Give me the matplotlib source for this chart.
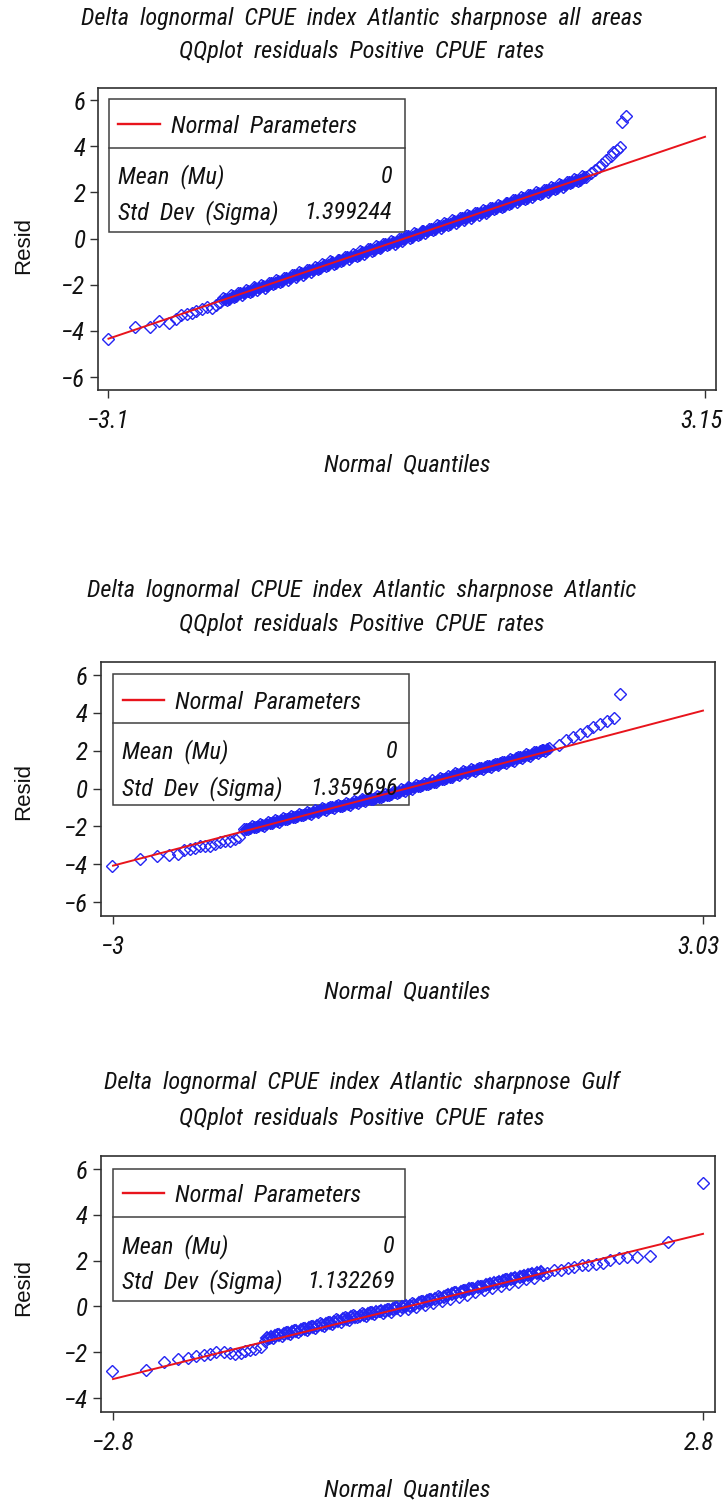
import matplotlib
matplotlib.use("Agg")
import matplotlib.pyplot as plt
from matplotlib.patches import Rectangle
from matplotlib import font_manager
from matplotlib.transforms import ScaledTranslation

_avail = set(f.name for f in font_manager.fontManager.ttflist)
_fam = [f for f in ['Liberation Sans Narrow', 'Roboto Condensed', 'Liberation Sans'] if f in _avail]
plt.rcParams['font.family'] = _fam + ['DejaVu Sans']

# ---------------- data ----------------
titles = [
    "Delta  lognormal  CPUE  index  Atlantic  sharpnose  all  areas",
    "Delta  lognormal  CPUE  index  Atlantic  sharpnose  Atlantic",
    "Delta  lognormal  CPUE  index  Atlantic  sharpnose  Gulf",
]
subtitle = "QQplot  residuals  Positive  CPUE  rates"
mu_values = [0, 0, 0]
sigma_values = [1.399244, 1.359696, 1.132269]
sigma_labels = ["1.399244", "1.359696", "1.132269"]
xtick_values = [[-3.1, 3.15], [-3.0, 3.03], [-2.8, 2.8]]
xtick_labels = [["\u22123.1", "3.15"], ["\u22123", "3.03"], ["\u22122.8", "2.8"]]
ytick_values = [[-6, -4, -2, 0, 2, 4, 6], [-6, -4, -2, 0, 2, 4, 6], [-4, -2, 0, 2, 4, 6]]

# panel 1: all areas (tails + band)
q1 = [-3.11, -2.82, -2.67, -2.57, -2.47, -2.39, -2.34, -2.28, -2.23, -2.18, -2.12, -2.07, -2.02, -1.97, -1.93,
      -1.90, -1.86, -1.82, -1.78, -1.74, -1.70, -1.66, -1.62, -1.58, -1.54, -1.50, -1.46, -1.42, -1.38, -1.34,
      -1.30, -1.26, -1.22, -1.18, -1.14, -1.10, -1.06, -1.02, -0.98, -0.94, -0.90, -0.86, -0.82, -0.78, -0.74,
      -0.70, -0.66, -0.62, -0.58, -0.54, -0.50, -0.46, -0.42, -0.38, -0.34, -0.30, -0.26, -0.22, -0.18, -0.14,
      -0.10, -0.06, -0.02, 0.02, 0.06, 0.10, 0.14, 0.18, 0.22, 0.26, 0.30, 0.34, 0.38, 0.42, 0.46,
      0.50, 0.54, 0.58, 0.62, 0.66, 0.70, 0.74, 0.78, 0.82, 0.86, 0.90, 0.94, 0.98, 1.02, 1.06,
      1.10, 1.14, 1.18, 1.22, 1.26, 1.30, 1.34, 1.38, 1.42, 1.46, 1.50, 1.54, 1.58, 1.62, 1.66,
      1.70, 1.74, 1.78, 1.82, 1.86, 1.90, 1.96, 2.00, 2.04, 2.07, 2.11, 2.16, 2.19, 2.23, 2.26,
      2.28, 2.32]
r1 = [-4.36, -3.84, -3.82, -3.56, -3.64, -3.50, -3.31, -3.27, -3.21, -3.14, -3.06, -2.98, -3.02, -2.88, -2.73,
      -2.58, -2.66, -2.45, -2.54, -2.35, -2.45, -2.24, -2.31, -2.11, -2.24, -2.03, -2.13, -1.91, -1.99, -1.78,
      -1.89, -1.70, -1.79, -1.56, -1.65, -1.46, -1.57, -1.36, -1.43, -1.23, -1.33, -1.12, -1.20, -0.99, -1.12,
      -0.91, -0.98, -0.78, -0.88, -0.68, -0.75, -0.55, -0.67, -0.46, -0.54, -0.34, -0.43, -0.22, -0.30, -0.12,
      -0.22, -0.01, -0.09, 0.11, 0.01, 0.23, 0.15, 0.33, 0.23, 0.43, 0.36, 0.57, 0.46, 0.67, 0.59,
      0.80, 0.68, 0.88, 0.81, 1.01, 0.91, 1.12, 1.04, 1.24, 1.12, 1.33, 1.26, 1.47, 1.36, 1.56,
      1.49, 1.69, 1.57, 1.78, 1.70, 1.90, 1.81, 2.02, 1.94, 2.12, 2.02, 2.23, 2.15, 2.36, 2.25,
      2.46, 2.39, 2.57, 2.49, 2.69, 2.68, 2.84, 2.98, 3.10, 3.24, 3.38, 3.56, 3.73, 3.85, 3.96,
      5.05, 5.30]
# panel 1: densest core of the band
q1b = [-1.88, -1.84, -1.80, -1.76, -1.72, -1.68, -1.64, -1.60, -1.56, -1.52, -1.48, -1.44, -1.40, -1.36, -1.32,
       -1.28, -1.24, -1.20, -1.16, -1.12, -1.08, -1.04, -1.00, -0.96, -0.92, -0.88, -0.84, -0.80, -0.76, -0.72,
       -0.68, -0.64, -0.60, -0.56, -0.52, -0.48, -0.44, -0.40, -0.36, -0.32, -0.28, -0.24, -0.20, -0.16, -0.12,
       -0.08, -0.04, 0.00, 0.04, 0.08, 0.12, 0.16, 0.20, 0.24, 0.28, 0.32, 0.36, 0.40, 0.44, 0.48,
       0.52, 0.56, 0.60, 0.64, 0.68, 0.72, 0.76, 0.80, 0.84, 0.88, 0.92, 0.96, 1.00, 1.04, 1.08,
       1.12, 1.16, 1.20, 1.24, 1.28, 1.32, 1.36, 1.40, 1.44, 1.48, 1.52, 1.56, 1.60, 1.64, 1.68,
       1.72, 1.76, 1.80, 1.84, 1.88]
r1b = [-2.60, -2.60, -2.49, -2.49, -2.38, -2.38, -2.26, -2.27, -2.15, -2.16, -2.04, -2.04, -1.93, -1.93, -1.82,
       -1.82, -1.70, -1.71, -1.59, -1.60, -1.48, -1.48, -1.37, -1.37, -1.26, -1.26, -1.15, -1.15, -1.03, -1.04,
       -0.92, -0.93, -0.81, -0.81, -0.70, -0.70, -0.59, -0.59, -0.47, -0.48, -0.36, -0.37, -0.25, -0.25, -0.14,
       -0.14, -0.03, -0.03, 0.09, 0.08, 0.20, 0.19, 0.31, 0.31, 0.42, 0.42, 0.53, 0.53, 0.65, 0.64,
       0.76, 0.75, 0.87, 0.87, 0.98, 0.98, 1.09, 1.09, 1.21, 1.20, 1.32, 1.31, 1.43, 1.42, 1.54,
       1.54, 1.65, 1.65, 1.76, 1.76, 1.88, 1.87, 1.99, 1.98, 2.10, 2.10, 2.21, 2.21, 2.32, 2.32,
       2.44, 2.43, 2.55, 2.54, 2.66]

# panel 2: Atlantic
q2 = [-3.01, -2.72, -2.55, -2.43, -2.34, -2.27, -2.21, -2.16, -2.11, -2.06, -2.01, -1.96, -1.91, -1.86, -1.80,
      -1.75, -1.71,
      -1.66, -1.62, -1.58, -1.54, -1.50, -1.46, -1.42, -1.38, -1.34, -1.30, -1.26, -1.22, -1.18, -1.14, -1.10,
      -1.06, -1.02, -0.98, -0.94, -0.90, -0.86, -0.82, -0.78, -0.74, -0.70, -0.66, -0.62, -0.58, -0.54, -0.50,
      -0.46, -0.42, -0.38, -0.34, -0.30, -0.26, -0.22, -0.18, -0.14, -0.10, -0.06, -0.02, 0.02, 0.06, 0.10,
      0.14, 0.18, 0.22, 0.26, 0.30, 0.34, 0.38, 0.42, 0.46, 0.50, 0.54, 0.58, 0.62, 0.66, 0.70,
      0.74, 0.78, 0.82, 0.86, 0.90, 0.94, 0.98, 1.02, 1.06, 1.10, 1.14, 1.18, 1.22, 1.26, 1.30,
      1.34, 1.38, 1.42, 1.46,
      1.56, 1.63, 1.70, 1.77, 1.84, 1.91, 1.98, 2.05, 2.12, 2.18]
r2 = [-4.12, -3.73, -3.56, -3.50, -3.45, -3.24, -3.19, -3.12, -3.06, -3.06, -3.03, -2.94, -2.85, -2.80, -2.75,
      -2.67, -2.55,
      -2.12, -2.16, -1.97, -2.04, -1.88, -1.96, -1.76, -1.82, -1.67, -1.75, -1.55, -1.61, -1.46, -1.52, -1.35,
      -1.40, -1.26, -1.33, -1.16, -1.24, -1.05, -1.15, -0.96, -1.05, -0.85, -0.95, -0.76, -0.86, -0.67, -0.77,
      -0.58, -0.67, -0.49, -0.57, -0.39, -0.47, -0.28, -0.36, -0.16, -0.25, -0.04, -0.13, 0.08, -0.01, 0.20,
      0.11, 0.31, 0.23, 0.43, 0.35, 0.56, 0.48, 0.68, 0.60, 0.80, 0.71, 0.91, 0.82, 1.01, 0.92,
      1.11, 1.02, 1.21, 1.12, 1.30, 1.22, 1.42, 1.35, 1.55, 1.48, 1.68, 1.60, 1.80, 1.73, 1.93,
      1.86, 2.06, 2.00, 2.15,
      2.31, 2.54, 2.71, 2.89, 3.06, 3.24, 3.42, 3.59, 3.72, 4.99]
q2b = [-1.64, -1.60, -1.56, -1.52, -1.48, -1.44, -1.40, -1.36, -1.32, -1.28, -1.24, -1.20, -1.16, -1.12, -1.08,
       -1.04, -1.00, -0.96, -0.92, -0.88, -0.84, -0.80, -0.76, -0.72, -0.68, -0.64, -0.60, -0.56, -0.52, -0.48,
       -0.44, -0.40, -0.36, -0.32, -0.28, -0.24, -0.20, -0.16, -0.12, -0.08, -0.04, 0.00, 0.04, 0.08, 0.12,
       0.16, 0.20, 0.24, 0.28, 0.32, 0.36, 0.40, 0.44, 0.48, 0.52, 0.56, 0.60, 0.64, 0.68, 0.72,
       0.76, 0.80, 0.84, 0.88, 0.92, 0.96, 1.00, 1.04, 1.08, 1.12, 1.16, 1.20, 1.24, 1.28, 1.32,
       1.36, 1.40, 1.44]
r2b = [-2.13, -2.07, -2.01, -1.96, -1.91, -1.86, -1.80, -1.75, -1.70, -1.64, -1.59, -1.54, -1.49, -1.44, -1.39,
       -1.33, -1.29, -1.24, -1.19, -1.14, -1.09, -1.04, -0.99, -0.95, -0.90, -0.85, -0.81, -0.76, -0.72, -0.67,
       -0.62, -0.58, -0.53, -0.48, -0.43, -0.38, -0.32, -0.27, -0.21, -0.16, -0.10, -0.05, 0.01, 0.07, 0.13,
       0.19, 0.25, 0.31, 0.37, 0.44, 0.50, 0.56, 0.63, 0.69, 0.75, 0.81, 0.87, 0.92, 0.97, 1.03,
       1.08, 1.14, 1.19, 1.24, 1.29, 1.35, 1.41, 1.47, 1.53, 1.59, 1.66, 1.72, 1.79, 1.85, 1.92,
       1.98, 2.03, 2.08]

# panel 3: Gulf
q3 = [-2.81, -2.49, -2.32, -2.18, -2.09, -2.01, -1.94, -1.88, -1.82, -1.75, -1.69, -1.64, -1.59, -1.55, -1.50,
      -1.45, -1.40,
      -1.36, -1.32, -1.28, -1.24, -1.20, -1.16, -1.12, -1.08, -1.04, -1.00, -0.96, -0.92, -0.88, -0.84, -0.80,
      -0.76, -0.72, -0.68, -0.64, -0.60, -0.56, -0.52, -0.48, -0.44, -0.40, -0.36, -0.32, -0.28, -0.24, -0.20,
      -0.16, -0.12, -0.08, -0.04, 0.00, 0.04, 0.08, 0.12, 0.16, 0.20, 0.24, 0.28, 0.32, 0.36, 0.40,
      0.44, 0.48, 0.52, 0.56, 0.60, 0.64, 0.68, 0.72, 0.76, 0.80, 0.84, 0.88, 0.92, 0.96, 1.00,
      1.04, 1.08, 1.12, 1.16, 1.20, 1.24, 1.28,
      1.32, 1.39, 1.45, 1.52, 1.58, 1.65, 1.71, 1.78, 1.85, 1.92, 2.00, 2.08, 2.17, 2.30, 2.47, 2.80]
r3 = [-2.83, -2.76, -2.44, -2.30, -2.25, -2.18, -2.14, -2.06, -2.00, -1.98, -2.03, -2.06, -2.03, -1.96, -1.89,
      -1.86, -1.77,
      -1.50, -1.36, -1.38, -1.22, -1.30, -1.12, -1.20, -1.02, -1.12, -0.94, -1.04, -0.84, -0.95, -0.74, -0.86,
      -0.66, -0.78, -0.56, -0.68, -0.46, -0.58, -0.36, -0.48, -0.30, -0.40, -0.24, -0.34, -0.18, -0.30, -0.12,
      -0.24, -0.04, -0.16, 0.04, -0.10, 0.14, -0.02, 0.24, 0.06, 0.34, 0.14, 0.44, 0.22, 0.52, 0.32,
      0.62, 0.42, 0.72, 0.52, 0.80, 0.62, 0.90, 0.70, 0.98, 0.80, 1.08, 0.88, 1.18, 0.98, 1.26,
      1.08, 1.34, 1.18, 1.40, 1.26, 1.44, 1.36,
      1.48, 1.57, 1.60, 1.67, 1.74, 1.79, 1.82, 1.85, 1.89, 2.04, 2.11, 2.14, 2.18, 2.21, 2.81, 5.41]
q3b = [-1.34, -1.30, -1.26, -1.22, -1.18, -1.14, -1.10, -1.06, -1.02, -0.98, -0.94, -0.90, -0.86, -0.82, -0.78,
       -0.74, -0.70, -0.66, -0.62, -0.58, -0.54, -0.50, -0.46, -0.42, -0.38, -0.34, -0.30, -0.26, -0.22, -0.18,
       -0.14, -0.10, -0.06, -0.02, 0.02, 0.06, 0.10, 0.14, 0.18, 0.22, 0.26, 0.30, 0.34, 0.38, 0.42,
       0.46, 0.50, 0.54, 0.58, 0.62, 0.66, 0.70, 0.74, 0.78, 0.82, 0.86, 0.90, 0.94, 0.98, 1.02,
       1.06, 1.10, 1.14, 1.18, 1.22, 1.26]
r3b = [-1.40, -1.34, -1.30, -1.25, -1.21, -1.16, -1.12, -1.07, -1.02, -0.98, -0.93, -0.89, -0.84, -0.80, -0.75,
       -0.71, -0.66, -0.62, -0.57, -0.53, -0.48, -0.44, -0.40, -0.36, -0.32, -0.28, -0.25, -0.21, -0.18, -0.14,
       -0.11, -0.07, -0.04, 0.00, 0.04, 0.08, 0.13, 0.18, 0.23, 0.28, 0.33, 0.38, 0.43, 0.49, 0.54,
       0.59, 0.64, 0.69, 0.74, 0.78, 0.83, 0.87, 0.92, 0.96, 1.01, 1.05, 1.10, 1.14, 1.19, 1.23,
       1.28, 1.32, 1.37, 1.41, 1.46, 1.50]

quantiles = [q1, q2, q3]
residuals = [r1, r2, r3]
core_quantiles = [q1b, q2b, q3b]
core_residuals = [r1b, r2b, r3b]

# ---------------- layout ----------------
W, H = 723, 1507
fig = plt.figure(figsize=(W / 100, H / 100), dpi=100)

frames = [(98, 716, 88, 390), (100.6, 714.7, 662, 916), (100.6, 714.7, 1156, 1412)]
xlims = [(-3.21, 3.265), (-3.127, 3.15), (-2.918, 2.911)]
ylims = [(-6.56, 6.52), (-6.74, 6.69), (-4.61, 6.57)]
title_y = [(18.3, 51.7), (590, 625), (1083, 1118)]
xlabel_y = [465, 992, 1490]
resid_y = [245, 791, 1287]
legend_box = [(0.017, 0.496, 0.9626, 0.801, 0.524),
              (0.020, 0.5016, 0.953, 0.761, 0.437),
              (0.020, 0.4957, 0.949, 0.762, 0.435)]
legend_rows = [(0.872, 0.706, 0.587, 0.4757),
               (0.840, 0.647, 0.503, 0.4835),
               (0.845, 0.648, 0.509, 0.479)]
core_filled = [True, True, False]

BLUE = "#2424f4"
RED = "#e8141c"
FRAME = "#303030"
TXT = "#111111"
fs_title = 17.5
fs_tick = 18
fs_leg = 17.5
resid_family = ['Liberation Sans', 'DejaVu Sans']

for i in range(3):
    L, R, T, B = frames[i]
    ax = fig.add_axes([L / W, 1 - B / H, (R - L) / W, (B - T) / H])
    ax.set_xlim(*xlims[i])
    ax.set_ylim(*ylims[i])

    sig = sigma_values[i]
    mu = mu_values[i]
    lx = xtick_values[i]
    ax.plot(lx, [mu + sig * v for v in lx], color=RED, lw=1.4, zorder=3)
    ax.plot(quantiles[i], residuals[i], linestyle="none", marker="D", ms=6.2,
            mfc="none", mec=BLUE, mew=1.0, zorder=2)
    if core_filled[i]:
        ax.plot(core_quantiles[i], core_residuals[i], linestyle="none", marker="D", ms=6.2,
                mfc=BLUE, mec=BLUE, mew=1.0, zorder=2)
    else:
        ax.plot(core_quantiles[i], core_residuals[i], linestyle="none", marker="D", ms=6.2,
                mfc="none", mec=BLUE, mew=1.4, zorder=2)

    ax.set_xticks(xtick_values[i])
    ax.set_xticklabels(xtick_labels[i])
    ax.set_yticks(ytick_values[i])
    ax.set_yticklabels([("\u2212" + str(-v)) if v < 0 else str(v) for v in ytick_values[i]])
    ax.tick_params(axis="both", direction="out", length=6, width=1.0, color=FRAME,
                   labelsize=fs_tick, labelcolor=TXT)
    ax.tick_params(axis="x", pad=8)
    ax.tick_params(axis="y", pad=3)
    xl = ax.get_xticklabels()
    for lab in xl + ax.get_yticklabels():
        lab.set_fontstyle("italic")
    # nudge the right-hand x tick label so it stays inside the canvas
    xl[-1].set_transform(xl[-1].get_transform() + ScaledTranslation(-4 / 100, 0, fig.dpi_scale_trans))
    for s in ax.spines.values():
        s.set_color(FRAME)
        s.set_linewidth(1.2)

    # parameter inset
    x0, x1, yt, yd, yb = legend_box[i]
    ax.add_patch(Rectangle((x0, yb), x1 - x0, yt - yb, transform=ax.transAxes,
                           fill=False, ec="#404040", lw=1.1, zorder=1))
    ax.plot([x0, x1], [yd, yd], transform=ax.transAxes, color="#404040", lw=1.1, zorder=1)
    yl, ym, ys, xr = legend_rows[i]
    ax.plot([x0 + 0.016, x0 + 0.083], [yl + 0.01, yl + 0.01], transform=ax.transAxes,
            color=RED, lw=1.7, zorder=1)
    ax.text(x0 + 0.101, yl, "Normal  Parameters", transform=ax.transAxes, ha="left", va="center",
            fontsize=fs_leg, style="italic", color=TXT)
    ax.text(x0 + 0.015, ym, "Mean  (Mu)", transform=ax.transAxes, ha="left", va="center",
            fontsize=fs_leg, style="italic", color=TXT)
    ax.text(xr, ym, str(mu_values[i]), transform=ax.transAxes, ha="right", va="center",
            fontsize=fs_leg, style="italic", color=TXT)
    ax.text(x0 + 0.015, ys, "Std  Dev  (Sigma)", transform=ax.transAxes, ha="left", va="center",
            fontsize=fs_leg, style="italic", color=TXT)
    ax.text(xr, ys, sigma_labels[i], transform=ax.transAxes, ha="right", va="center",
            fontsize=fs_leg, style="italic", color=TXT)

    # titles and axis labels
    fig.text(0.5, 1 - title_y[i][0] / H, titles[i], ha="center", va="center",
             fontsize=fs_title, style="italic", color=TXT)
    fig.text(0.5, 1 - title_y[i][1] / H, subtitle, ha="center", va="center",
             fontsize=fs_title, style="italic", color=TXT)
    fig.text(((L + R) / 2) / W, 1 - xlabel_y[i] / H, "Normal  Quantiles", ha="center", va="center",
             fontsize=fs_title, style="italic", color=TXT)
    fig.text(24 / W, 1 - resid_y[i] / H, "Resid", ha="center", va="center", rotation=90,
             fontsize=16, family=resid_family, color=TXT)

fig.savefig("out.png", dpi=100, facecolor="white")
